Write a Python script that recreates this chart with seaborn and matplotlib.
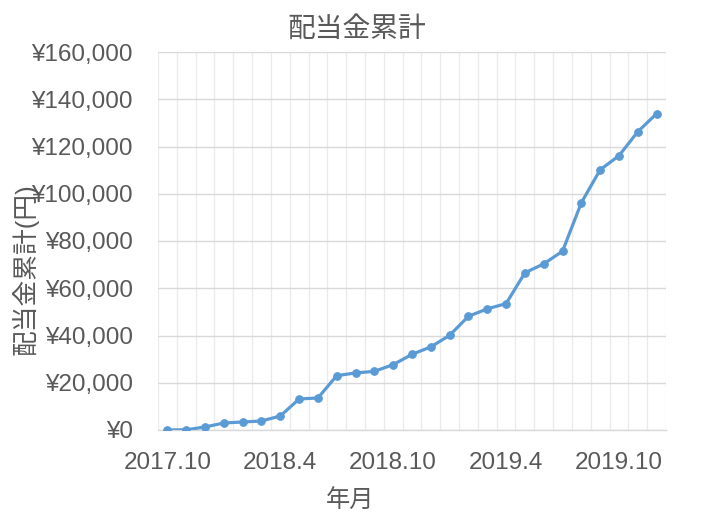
import matplotlib
matplotlib.use("Agg")
import matplotlib.pyplot as plt
from matplotlib.ticker import FuncFormatter, MultipleLocator, FixedLocator
import seaborn as sns
import pandas as pd
import numpy as np

months = ["2017.10", "2017.11", "2017.12",
          "2018.1", "2018.2", "2018.3", "2018.4", "2018.5", "2018.6",
          "2018.7", "2018.8", "2018.9", "2018.10", "2018.11", "2018.12",
          "2019.1", "2019.2", "2019.3", "2019.4", "2019.5", "2019.6",
          "2019.7", "2019.8", "2019.9", "2019.10", "2019.11", "2019.12"]
cumulative = [0, 100, 1270, 2970, 3390, 3810, 5930, 13130, 13560,
              23000, 24150, 24830, 27670, 32030, 35170, 40080, 48130,
              51270, 53510, 66520, 70330, 75670, 96180, 110160, 116090,
              126260, 133890]
shown_ticks = ["2017.10", "2018.4", "2018.10", "2019.4", "2019.10"]

title = "配当金累計"
xlabel = "年月"
ylabel = "配当金累計(円)"

sns.set_theme(style="white")
plt.rcParams["font.family"] = ["Liberation Sans", "Noto Sans CJK JP", "DejaVu Sans"]

df = pd.DataFrame({"idx": np.arange(len(months)), "month": months, "value": cumulative})

text_color = "#595959"
fig = plt.figure(figsize=(7.06, 5.21), dpi=100)
ax = fig.add_axes([158 / 706, 1 - 430 / 521, (666 - 158) / 706, (430 - 52) / 521])

sns.lineplot(data=df, x="idx", y="value", ax=ax, color="#5B9BD5",
             linewidth=2.3, marker="o", markersize=5.5,
             markeredgecolor="#5B9BD5", zorder=3)

ax.set_xlim(-0.5, len(months) - 0.5)
ax.set_ylim(0, 160000)
ax.yaxis.set_major_locator(MultipleLocator(20000))
ax.yaxis.set_major_formatter(FuncFormatter(lambda v, p: "¥{:,.0f}".format(v)))

tick_pos = [months.index(m) for m in shown_ticks]
ax.xaxis.set_major_locator(FixedLocator(tick_pos))
ax.set_xticklabels(shown_ticks)
ax.xaxis.set_minor_locator(FixedLocator(np.arange(-0.5, len(months), 1.0)))

ax.grid(False)
ax.grid(axis="y", which="major", color="#D9D9D9", linewidth=1.0, zorder=0)
ax.grid(axis="x", which="minor", color="#EBEBEB", linewidth=1.0, zorder=0)

for s in ["top", "right", "left"]:
    ax.spines[s].set_visible(False)
ax.spines["bottom"].set_color("#D9D9D9")
ax.spines["bottom"].set_linewidth(1.0)

ax.tick_params(axis="x", which="both", length=0, pad=15.5, labelsize=17.5, labelcolor=text_color)
ax.tick_params(axis="y", which="both", length=0, pad=18, labelsize=17.5, labelcolor=text_color)
ax.set_xlabel("")
ax.set_ylabel("")

fig.text(357 / 706, 1 - 30 / 521, title, ha="center", va="center",
         fontsize=20, color=text_color)
fig.text(350 / 706, 1 - 501 / 521, xlabel, ha="center", va="center",
         fontsize=17.5, color=text_color)
fig.text(25 / 706, 1 - 269 / 521, ylabel, ha="center", va="center",
         rotation=90, fontsize=18.5, color=text_color)

fig.savefig("out.png", dpi=100)
